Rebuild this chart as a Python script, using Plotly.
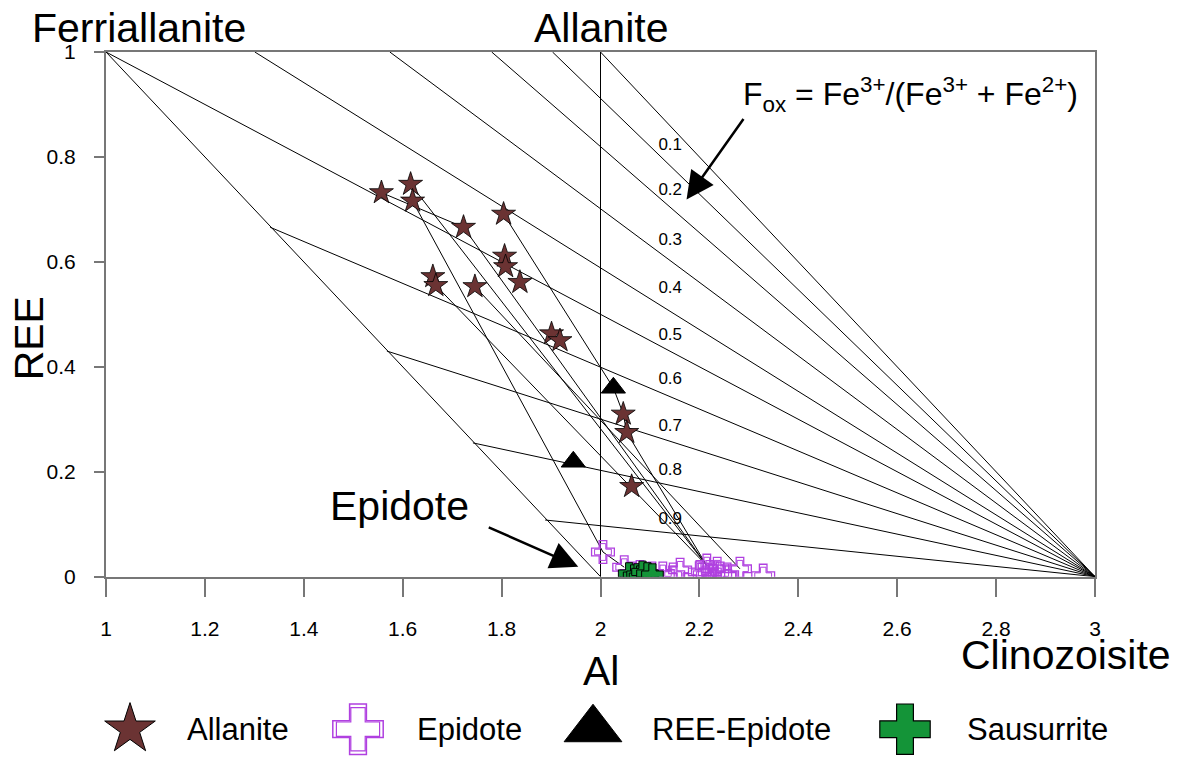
import plotly.graph_objects as go

FONT = "Liberation Sans, Arial, sans-serif"

# ---- end members of the allanite - epidote system (Al vs REE, apfu) ----
end_members = ["Ferriallanite", "Allanite", "Epidote", "Clinozoisite"]
em_al = [1.0, 2.0, 2.0, 3.0]
em_ree = [1.0, 1.0, 0.0, 0.0]

# ---- Fox isolines: start points, every line runs to clinozoisite ----
fox_start_al = [2.0, 1.903, 1.780, 1.574, 1.301, 1.0, 1.332, 1.568, 1.742, 1.888]
fox_start_ree = [1.0, 1.0, 1.0, 1.0, 1.0, 1.0, 0.666, 0.430, 0.255, 0.108]

fox_labels = ["0.1", "0.2", "0.3", "0.4", "0.5", "0.6", "0.7", "0.8", "0.9"]
fox_label_al = [2.141] * 9
fox_label_ree = [0.822, 0.736, 0.640, 0.548, 0.460, 0.375, 0.285, 0.201, 0.109]

# ---- analyses ----
allanite_al = [1.557, 1.616, 1.620, 1.723, 1.804, 1.806, 1.808, 1.837,
               1.661, 1.667, 1.746, 1.901, 1.918, 2.046, 2.053, 2.063]
allanite_ree = [0.732, 0.748, 0.716, 0.666, 0.691, 0.611, 0.591, 0.561,
                0.572, 0.555, 0.553, 0.463, 0.450, 0.310, 0.275, 0.172]

epidote_al = [2.005, 2.048, 2.064, 2.080, 2.104, 2.126, 2.147, 2.161, 2.201,
              2.211, 2.215, 2.221, 2.228, 2.236, 2.242, 2.256, 2.282, 2.329]
epidote_ree = [0.047, 0.018, 0.006, 0.009, 0.006, 0.006, 0.004, 0.013, 0.009,
               0.004, 0.021, 0.009, 0.001, 0.015, 0.006, 0.004, 0.015, 0.002]

ree_epidote_al = [2.026, 1.945]
ree_epidote_ree = [0.360, 0.219]

sausurrite_al = [2.058, 2.068, 2.075, 2.080, 2.085, 2.095, 2.105]
sausurrite_ree = [0.006, 0.002, 0.004, 0.000, 0.009, 0.006, 0.004]

series = {
    "Allanite": (allanite_al, allanite_ree),
    "Epidote": (epidote_al, epidote_ree),
    "REE-Epidote": (ree_epidote_al, ree_epidote_ree),
    "Sausurrite": (sausurrite_al, sausurrite_ree),
}

# core -> rim paths within single grains (series name, analysis index)
tie_paths = [
    [("Allanite", 0), ("Allanite", 3)],
    [("Allanite", 2), ("Epidote", 0), ("Epidote", 1)],
    [("Allanite", 1), ("Epidote", 10)],
    [("Allanite", 3), ("Epidote", 10)],
    [("Allanite", 4), ("REE-Epidote", 0), ("Allanite", 13), ("Allanite", 14), ("Epidote", 10)],
    [("Allanite", 9), ("Epidote", 10)],
    [("Allanite", 10), ("Epidote", 16)],
]

# ---- styles ----
ALLANITE_FILL = "#6b3333"
EPIDOTE_PURPLE = "#b040e0"
SAUS_GREEN = "#149438"
LINE = dict(color="black", width=1)

fig = go.Figure()

# frame of the diagram: Ferriallanite-Epidote join and Allanite-Epidote join
fig.add_trace(go.Scatter(x=[em_al[0], em_al[2]], y=[em_ree[0], em_ree[2]],
                         mode="lines", line=LINE, hoverinfo="skip"))
fig.add_trace(go.Scatter(x=[em_al[1], em_al[2]], y=[em_ree[1], em_ree[2]],
                         mode="lines", line=LINE, hoverinfo="skip"))

# Fox isolines
for a, r in zip(fox_start_al, fox_start_ree):
    fig.add_trace(go.Scatter(x=[a, em_al[3]], y=[r, em_ree[3]], mode="lines",
                             line=LINE, hoverinfo="skip"))

# grain paths
for path in tie_paths:
    xs = [series[s][0][i] for s, i in path]
    ys = [series[s][1][i] for s, i in path]
    fig.add_trace(go.Scatter(x=xs, y=ys, mode="lines", line=LINE, hoverinfo="skip"))

# isoline labels
fig.add_trace(go.Scatter(x=fox_label_al, y=fox_label_ree, text=fox_labels, mode="text",
                         textfont=dict(family=FONT, size=17, color="black"),
                         hoverinfo="skip"))

# data points
fig.add_trace(go.Scatter(x=epidote_al, y=epidote_ree, mode="markers", name="Epidote",
                         marker=dict(symbol="cross-open", size=19, color=EPIDOTE_PURPLE,
                                     line=dict(color=EPIDOTE_PURPLE, width=1.3))))
fig.add_trace(go.Scatter(x=epidote_al, y=epidote_ree, mode="markers", hoverinfo="skip",
                         marker=dict(symbol="cross-open", size=14, color=EPIDOTE_PURPLE,
                                     line=dict(color=EPIDOTE_PURPLE, width=1.0))))
fig.add_trace(go.Scatter(x=sausurrite_al, y=sausurrite_ree, mode="markers", name="Sausurrite",
                         marker=dict(symbol="cross", size=18, color=SAUS_GREEN,
                                     line=dict(color="black", width=1))))
fig.add_trace(go.Scatter(x=ree_epidote_al, y=ree_epidote_ree, mode="markers", name="REE-Epidote",
                         marker=dict(symbol="triangle-up", size=21, color="black",
                                     line=dict(color="black", width=1))))
fig.add_trace(go.Scatter(x=allanite_al, y=allanite_ree, mode="markers", name="Allanite",
                         marker=dict(symbol="star", size=18, color=ALLANITE_FILL,
                                     line=dict(color="black", width=0.8))))

# ---- legend row drawn on its own hidden axis ----
legend_names = ["Allanite", "Epidote", "REE-Epidote", "Sausurrite"]
LEGEND_MARKER_X = [130, 358, 593, 905]
LEGEND_TEXT_X = [185, 415, 650, 965]
legend_styles = [
    dict(symbol="star", size=38, color=ALLANITE_FILL, line=dict(color="black", width=1)),
    dict(symbol="cross-open", size=42, color=EPIDOTE_PURPLE, line=dict(color=EPIDOTE_PURPLE, width=1.5)),
    dict(symbol="triangle-up", size=50, color="black", line=dict(color="black", width=1)),
    dict(symbol="cross", size=42, color=SAUS_GREEN, line=dict(color="black", width=1.2)),
]
for name, mx, st in zip(legend_names, LEGEND_MARKER_X, legend_styles):
    fig.add_trace(go.Scatter(x=[mx], y=[0.5], mode="markers", marker=st, xaxis="x2",
                             yaxis="y2", cliponaxis=False, hoverinfo="skip"))
# inner outline of the doubled epidote cross
fig.add_trace(go.Scatter(x=[LEGEND_MARKER_X[1]], y=[0.5], mode="markers", xaxis="x2", yaxis="y2",
                         cliponaxis=False, hoverinfo="skip",
                         marker=dict(symbol="cross-open", size=36, color=EPIDOTE_PURPLE,
                                     line=dict(color=EPIDOTE_PURPLE, width=1.2))))

annotations = []
for name, tx in zip(legend_names, LEGEND_TEXT_X):
    annotations.append(dict(x=tx, y=0.5, xref="x2", yref="y2", text=name, showarrow=False,
                            xanchor="left", yanchor="middle",
                            font=dict(family=FONT, size=31, color="black")))

# end-member names
annotations += [
    dict(x=em_al[0], y=em_ree[0], text=end_members[0], showarrow=False, xanchor="center",
         yanchor="middle", xshift=33, yshift=24, font=dict(family=FONT, size=41, color="black")),
    dict(x=em_al[1], y=em_ree[1], text=end_members[1], showarrow=False, xanchor="center",
         yanchor="middle", yshift=24, font=dict(family=FONT, size=41, color="black")),
    dict(x=em_al[2], y=em_ree[2], text=end_members[2], showarrow=False, xanchor="center",
         yanchor="middle", xshift=-201, yshift=71, font=dict(family=FONT, size=41, color="black")),
    dict(x=em_al[3], y=em_ree[3], text=end_members[3], showarrow=False, xanchor="center",
         yanchor="middle", xshift=-29, yshift=-78, font=dict(family=FONT, size=41, color="black")),
]

# Fox definition and arrows
annotations += [
    dict(x=2.626, y=0.919, text="F<sub>ox</sub> = Fe<sup>3+</sup>/(Fe<sup>3+</sup> + Fe<sup>2+</sup>)",
         showarrow=False, xanchor="center", yanchor="middle",
         font=dict(family=FONT, size=32, color="black")),
    dict(x=2.174, y=0.719, text="", showarrow=True, ax=58, ay=-82, arrowhead=2,
         arrowsize=2.2, arrowwidth=2.5, arrowcolor="black"),
    dict(x=1.955, y=0.019, text="", showarrow=True, ax=-91, ay=-40, arrowhead=2,
         arrowsize=2.2, arrowwidth=2.5, arrowcolor="black"),
]

# axis titles
annotations += [
    dict(x=2.0, y=0.106, xref="x", yref="paper", text="Al", showarrow=False,
         xanchor="center", yanchor="middle", font=dict(family=FONT, size=41, color="black")),
    dict(x=-0.077, y=0.586, xref="paper", yref="paper", text="REE", showarrow=False,
         textangle=-90, xanchor="center", yanchor="middle",
         font=dict(family=FONT, size=41, color="black")),
]

TICKFONT = dict(family=FONT, size=21, color="black")

fig.update_layout(
    width=1179, height=765,
    margin=dict(l=106, r=84, t=52, b=10),
    paper_bgcolor="white", plot_bgcolor="white",
    showlegend=False,
    font=dict(family=FONT, color="black"),
    annotations=annotations,
    xaxis=dict(range=[1, 3], domain=[0, 1], anchor="y", tickvals=[1, 1.2, 1.4, 1.6, 1.8, 2, 2.2, 2.4, 2.6, 2.8, 3],
               ticktext=["1", "1.2", "1.4", "1.6", "1.8", "2", "2.2", "2.4", "2.6", "2.8", "3"],
               ticks="outside", ticklen=18, tickcolor="#777", tickwidth=1.5,
               showgrid=False, zeroline=False, showline=True, linecolor="#777", linewidth=2,
               mirror=True, ticklabelstandoff=14, tickfont=TICKFONT),
    yaxis=dict(range=[0, 1], domain=[0.2418, 1], anchor="x", tickvals=[0, 0.2, 0.4, 0.6, 0.8, 1],
               ticktext=["0", "0.2", "0.4", "0.6", "0.8", "1"],
               ticks="outside", ticklen=10, tickcolor="#777", tickwidth=1.5,
               showgrid=False, zeroline=True, zerolinecolor="black", zerolinewidth=1.5,
               showline=True, linecolor="#777", linewidth=2, mirror=True,
               ticklabelstandoff=14, tickfont=TICKFONT),
    xaxis2=dict(range=[106, 1095], domain=[0, 1], anchor="y2", visible=False, fixedrange=True),
    yaxis2=dict(range=[0, 1], domain=[0, 0.0427], anchor="x2", visible=False, fixedrange=True),
)

fig.write_html("out.html")
